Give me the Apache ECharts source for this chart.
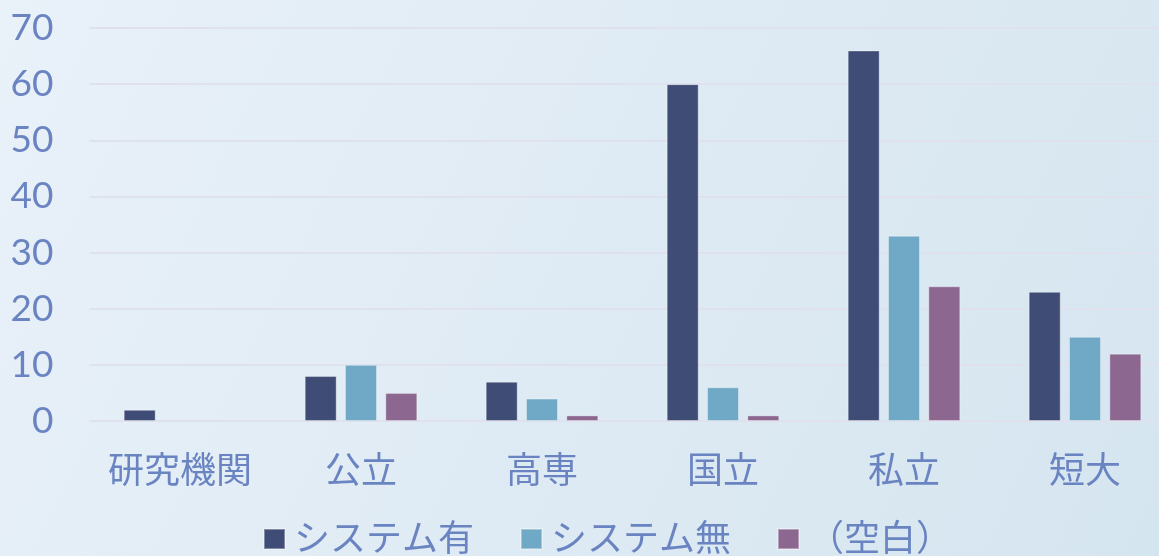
<!DOCTYPE html>
<html><head><meta charset="utf-8">
<script src="https://cdn.jsdelivr.net/npm/echarts@6/dist/echarts.min.js"></script>
<style>html,body{margin:0;padding:0;}#c{width:1159px;height:556px;}</style>
</head><body><div id="c"></div>
<script>
const categories = ['研究機関','公立','高専','国立','私立','短大'];
const seriesNames = ['システム有','システム無','（空白）'];
const withSystem = [2, 8, 7, 60, 66, 23];
const withoutSystem = [0, 10, 4, 6, 33, 15];
const blank = [0, 5, 1, 1, 24, 12];
const yTicks = [0, 10, 20, 30, 40, 50, 60, 70];

const colors = ['#3f4c75', '#6fa9c5', '#8c6890'];
const txt = '#6a84c2';
const font = '"Lato","Noto Sans CJK JP",sans-serif';
const chart = echarts.init(document.getElementById('c'));
const mk = (name, data, i) => ({
  name, type: 'bar', barWidth: 32, barGap: '26%',
  data: data.map(v => v === 0 ? { value: v, itemStyle: { borderWidth: 0 } } : v),
  itemStyle: { color: colors[i], borderColor: 'rgba(255,255,255,0.35)', borderWidth: 1 }
});
chart.setOption({
  backgroundColor: new echarts.graphic.LinearGradient(0, 0, 1, 1, [
    { offset: 0, color: '#e9f1f9' }, { offset: 1, color: '#d5e5ef' }
  ]),
  animation: false,
  textStyle: { fontFamily: font },
  grid: { left: 89.5, width: 1086, top: 28, bottom: 135, containLabel: false, outerBoundsMode: 'none' },
  legend: {
    top: 516, left: 258, itemWidth: 21, itemHeight: 20, itemGap: 46, icon: 'rect',
    textStyle: { color: txt, fontSize: 36, lineHeight: 36, fontFamily: font, padding: [0, 0, 0, 4] },
    data: seriesNames
  },
  xAxis: {
    type: 'category', data: categories,
    axisLine: { show: false }, axisTick: { show: false },
    axisLabel: { color: txt, fontSize: 36, margin: 32, interval: 0, fontFamily: font }
  },
  yAxis: {
    type: 'value', min: yTicks[0], max: yTicks[yTicks.length - 1], interval: 10,
    axisLine: { show: false }, axisTick: { show: false },
    axisLabel: { color: txt, fontSize: 37, margin: 36, fontFamily: font },
    splitLine: { lineStyle: { color: '#dfe2ee', width: 2 } }
  },
  series: [mk(seriesNames[0], withSystem, 0), mk(seriesNames[1], withoutSystem, 1), mk(seriesNames[2], blank, 2)]
});
</script></body></html>
